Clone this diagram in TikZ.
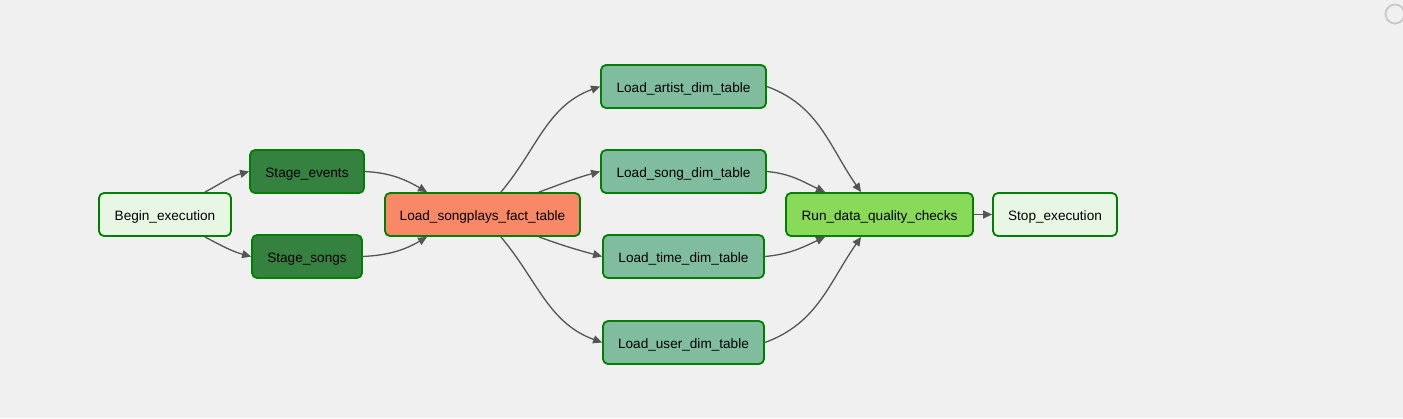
\documentclass[tikz,border=0pt]{standalone}
\usepackage{fontspec}
\setmainfont{Liberation Sans}
\usetikzlibrary{arrows.meta}
\definecolor{bg}{HTML}{F0F0F0}
\definecolor{okgreen}{HTML}{008000}
\definecolor{dummyc}{HTML}{E8F7E4}
\definecolor{stagec}{HTML}{358140}
\definecolor{factc}{HTML}{F98866}
\definecolor{dimc}{HTML}{80BD9E}
\definecolor{qualc}{HTML}{89DA59}
\definecolor{edgec}{HTML}{555555}
\tikzset{
  task/.style={draw=okgreen, line width=1.8pt, rounded corners=5pt, minimum height=43pt,
    inner sep=0pt, text height=12.6pt, text depth=0pt,
    font=\fontsize{13.6}{16}\selectfont, text=black},
  edge/.style={draw=edgec, line width=1.3pt, -{Triangle[length=9pt,width=8pt]}},
}
\begin{document}
\begin{tikzpicture}[x=1pt,y=1pt]
\fill[bg] (0,0) rectangle (1403,-418);
\useasboundingbox (0,0) rectangle (1403,-418);
\draw[color={rgb,255:red,200;green,200;blue,200}, line width=1.8pt] (1395,-14) circle (9.5);

\node[task, fill=dummyc, minimum width=132pt] (begin) at (165,-214.5) {Begin\_execution};
\node[task, fill=stagec, minimum width=114pt] (sevents) at (307,-171.5) {Stage\_events};
\node[task, fill=stagec, minimum width=110pt] (ssongs) at (307,-256.5) {Stage\_songs};
\node[task, fill=factc, minimum width=195pt] (fact) at (482.5,-214.5) {Load\_songplays\_fact\_table};
\node[task, fill=dimc, minimum width=165pt] (artist) at (683.5,-86.5) {Load\_artist\_dim\_table};
\node[task, fill=dimc, minimum width=165pt] (song) at (683.5,-171.5) {Load\_song\_dim\_table};
\node[task, fill=dimc, minimum width=161pt] (time) at (683.5,-256.5) {Load\_time\_dim\_table};
\node[task, fill=dimc, minimum width=161pt] (user) at (683.5,-342.5) {Load\_user\_dim\_table};
\node[task, fill=qualc, minimum width=187pt] (run) at (879.5,-214.5) {Run\_data\_quality\_checks};
\node[task, fill=dummyc, minimum width=124pt] (stop) at (1055,-214.5) {Stop\_execution};

\draw[edge] ([xshift=-27pt]begin.north east) to[out=28,in=195] (sevents.west);
\draw[edge] ([xshift=-27pt]begin.south east) to[out=-28,in=165] (ssongs.west);
\draw[edge] (sevents.east) to[out=-3,in=150] ([xshift=43pt]fact.north west);
\draw[edge] (ssongs.east) to[out=3,in=210] ([xshift=43pt]fact.south west);
\draw[edge] ([xshift=-80pt]fact.north east) to[out=50,in=200] (artist.west);
\draw[edge] ([xshift=-42pt]fact.north east) to[out=20,in=195] (song.west);
\draw[edge] ([xshift=-42pt]fact.south east) to[out=-20,in=165] (time.west);
\draw[edge] ([xshift=-80pt]fact.south east) to[out=-50,in=160] (user.west);
\draw[edge] (artist.east) to[out=-20,in=125] ([xshift=76pt]run.north west);
\draw[edge] (song.east) to[out=-5,in=155] ([xshift=40pt]run.north west);
\draw[edge] (time.east) to[out=5,in=205] ([xshift=40pt]run.south west);
\draw[edge] (user.east) to[out=20,in=235] ([xshift=76pt]run.south west);
\draw[edge] (run.east) -- (stop.west);
\end{tikzpicture}
\end{document}
